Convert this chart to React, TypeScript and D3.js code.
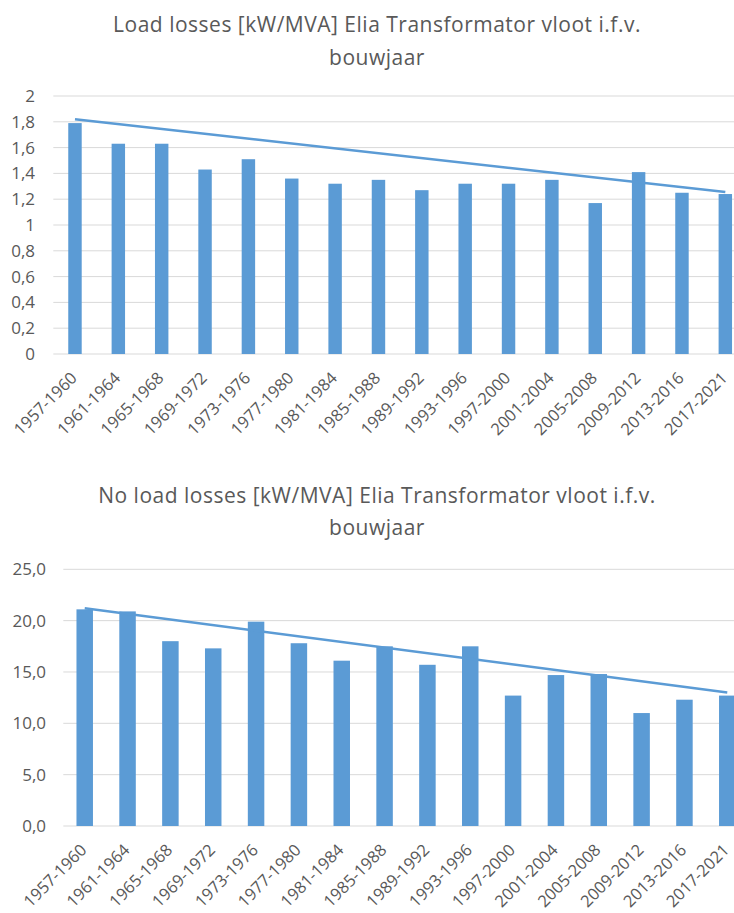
import * as d3 from 'd3'

const categories = [
  '1957-1960', '1961-1964', '1965-1968', '1969-1972', '1973-1976', '1977-1980', '1981-1984', '1985-1988',
  '1989-1992', '1993-1996', '1997-2000', '2001-2004', '2005-2008', '2009-2012', '2013-2016', '2017-2021',
]

const loadLosses = [1.79, 1.63, 1.63, 1.43, 1.51, 1.36, 1.32, 1.35, 1.27, 1.32, 1.32, 1.35, 1.17, 1.41, 1.25, 1.24]
const noLoadLosses = [21.1, 20.9, 18.0, 17.3, 19.9, 17.8, 16.1, 17.5, 15.7, 17.5, 12.7, 14.7, 14.8, 11.0, 12.3, 12.7]

// trendline values at the first and last category
const loadTrend = [1.82, 1.256]
const noLoadTrend = [21.2, 13.0]

const loadTicks = [0, 0.2, 0.4, 0.6, 0.8, 1, 1.2, 1.4, 1.6, 1.8, 2]
const noLoadTicks = [0, 5, 10, 15, 20, 25]

const loadTitle = ['Load losses [kW/MVA] Elia Transformator vloot i.f.v.', 'bouwjaar']
const noLoadTitle = ['No load losses [kW/MVA] Elia Transformator vloot i.f.v.', 'bouwjaar']

const locale = d3.formatLocale({ decimal: ',', thousands: '.', grouping: [3], currency: ['€', ''] })

const WIDTH = 734
const HEIGHT = 913
const FONT = '"Open Sans", "Noto Sans", sans-serif'
const TEXT = '#595959'
const BLUE = '#5b9bd5'
const GRID = '#d9d9d9'

type Frame = { left: number; right: number; top: number; bottom: number }

type PanelProps = {
  title: string[]
  titleY: number[]
  values: number[]
  trend: number[]
  ticks: number[]
  format: (v: number) => string
  frame: Frame
  padding: number
  labelRight: number
}

function Panel({ title, titleY, values, trend, ticks, format, frame, padding, labelRight }: PanelProps) {
  const x = d3.scaleBand<string>().domain(categories).range([frame.left, frame.right]).paddingInner(padding).paddingOuter(padding / 2)
  const y = d3.scaleLinear().domain([ticks[0], ticks[ticks.length - 1]]).range([frame.bottom, frame.top])
  const center = (c: string) => (x(c) ?? 0) + x.bandwidth() / 2

  const trendPts: [number, number][] = [
    [center(categories[0]), y(trend[0])],
    [center(categories[categories.length - 1]), y(trend[1])],
  ]
  const line = d3.line()

  return (
    <g>
      {title.map((t, i) => (
        <text key={t} x={377} y={titleY[i]} textAnchor="middle" fontSize={21} letterSpacing={0.5} fill={TEXT}>
          {t}
        </text>
      ))}

      {ticks.map((t) => (
        <g key={t}>
          <line x1={frame.left} x2={WIDTH} y1={y(t)} y2={y(t)} stroke={GRID} strokeWidth={1} />
          <text x={labelRight} y={y(t)} dy="0.35em" textAnchor="end" fontSize={17} fill={TEXT}>
            {format(t)}
          </text>
        </g>
      ))}

      {values.map((v, i) => (
        <rect key={categories[i]} x={x(categories[i])} y={y(v)} width={x.bandwidth()} height={y(0) - y(v)} fill={BLUE} />
      ))}

      <path d={line(trendPts) ?? ''} fill="none" stroke={BLUE} strokeWidth={2.5} />

      {categories.map((c) => (
        <text
          key={c}
          transform={`translate(${center(c) + 3}, ${frame.bottom + 25}) rotate(-45)`}
          textAnchor="end"
          fontSize={16.5}
          fill={TEXT}
        >
          {c}
        </text>
      ))}
    </g>
  )
}

export default function App() {
  return (
    <svg
      width={WIDTH}
      height={HEIGHT}
      viewBox={`0 0 ${WIDTH} ${HEIGHT}`}
      style={{ position: 'absolute', left: 0, top: 0, background: '#fff', fontFamily: FONT }}
    >
      <rect width={WIDTH} height={HEIGHT} fill="#fff" />
      <Panel
        title={loadTitle}
        titleY={[32, 65]}
        values={loadLosses}
        trend={loadTrend}
        ticks={loadTicks}
        format={(v) => locale.format('')(v)}
        frame={{ left: 53.3, right: 747, top: 96, bottom: 354 }}
        padding={0.69}
        labelRight={35}
      />
      <Panel
        title={noLoadTitle}
        titleY={[503, 535]}
        values={noLoadLosses}
        trend={noLoadTrend}
        ticks={noLoadTicks}
        format={(v) => locale.format('.1f')(v)}
        frame={{ left: 63.3, right: 748.7, top: 569.3, bottom: 826 }}
        padding={0.615}
        labelRight={46}
      />
    </svg>
  )
}
